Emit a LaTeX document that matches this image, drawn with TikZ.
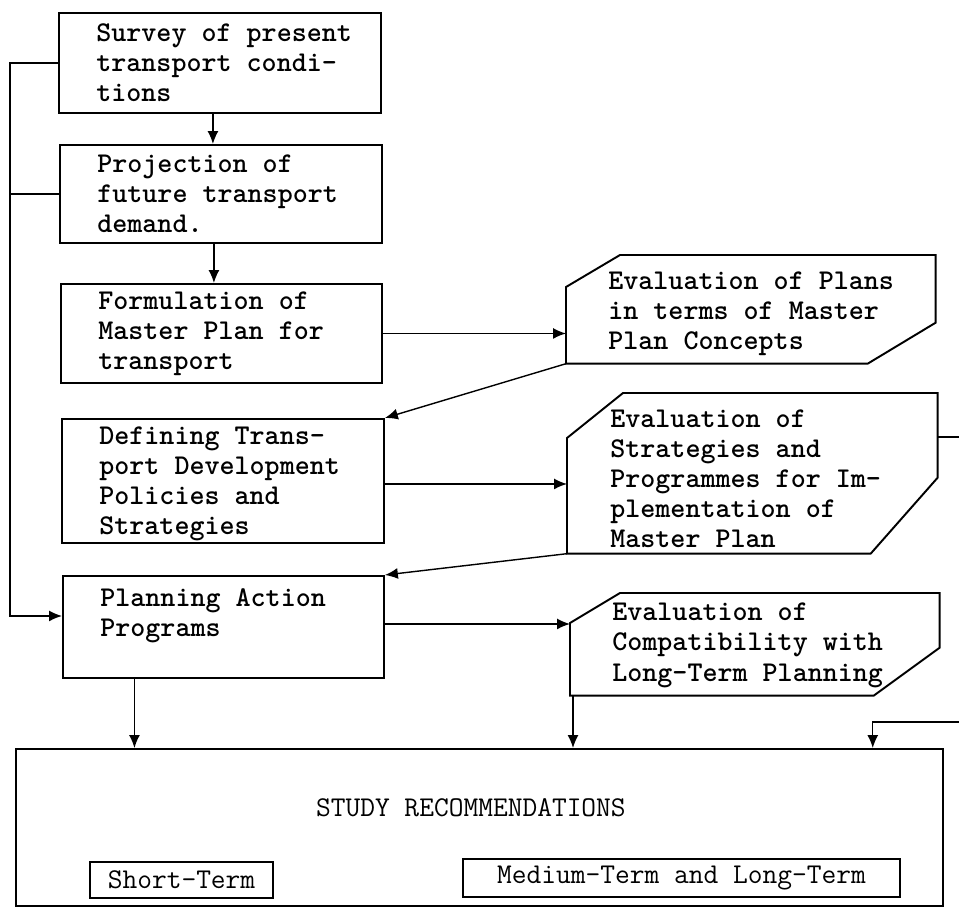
\documentclass[tikz,border=0pt]{standalone}
\usetikzlibrary{positioning,arrows.meta}

% outline with the top left and bottom right corners cut off
\newcommand\cutframe[5]{%
  \draw[line width=1.1pt] ([yshift=-#2]#1.north west) -- ([xshift=#3]#1.north west)
    -- (#1.north east) -- ([yshift=#4]#1.south east) -- ([xshift=-#5]#1.south east)
    -- (#1.south west) -- cycle;}

\begin{document}
\begin{tikzpicture}[x=0.02cm, y=-0.02cm, >={Latex[length=2.6mm,width=2.2mm]},
framenode/.style={rectangle, draw=black, line width=1.1pt, anchor=north west, inner sep=0},
evalnode/.style={rectangle, anchor=north west, inner sep=0},
textnode/.style={align=left, inner sep=0, font=\ttfamily\bfseries\fontsize{16.3}{17.1}\selectfont},
plaintext/.style={inner sep=0, font=\ttfamily\fontsize{16.3}{17.1}\selectfont},
smallbox/.style={rectangle, draw=black, line width=0.9pt, inner sep=0, font=\ttfamily\fontsize{16.3}{17.1}\selectfont},
conn/.style={line width=0.8pt},
]
\useasboundingbox (0,0) rectangle (959,910);

% Nodes
\node[framenode, minimum width=6.44cm, minimum height=2.00cm] (survey) at (58,12) {};
\node[framenode, minimum width=6.44cm, minimum height=1.96cm] (project) at (59,144) {};
\node[framenode, minimum width=6.42cm, minimum height=1.98cm] (formul) at (60,283) {};
\node[framenode, minimum width=6.44cm, minimum height=2.48cm] (defining) at (61,418) {};
\node[framenode, minimum width=6.42cm, minimum height=2.04cm] (planning) at (62,575) {};

\node[textnode, right=0.76cm of survey.west] (surveytxt) {Survey of present\\transport condi-\\tions};
\node[textnode, right=0.76cm of project.west] (projecttxt) {Projection of\\future transport\\demand.};
\node[textnode, right=0.76cm of formul.west] (formultxt) {Formulation of\\Master Plan for\\transport};
\node[textnode, right=0.76cm of defining.west, yshift=-0.06cm] (definingtxt) {Defining Trans-\\port Development\\Policies and\\Strategies};
\node[textnode, right=0.76cm of planning.west, yshift=0.22cm] (planningtxt) {Planning Action\\Programs};

\node[evalnode, minimum width=7.38cm, minimum height=2.16cm] (plans) at (566,255) {};
\cutframe{plans}{0.64cm}{1.08cm}{0.82cm}{1.36cm}
\node[textnode, right=0.84cm of plans.west, yshift=-0.08cm] (planstxt) {Evaluation of Plans\\in terms of Master\\Plan Concepts};

\node[evalnode, minimum width=7.40cm, minimum height=3.20cm] (strategies) at (567,393) {};
\cutframe{strategies}{0.90cm}{1.12cm}{1.52cm}{1.34cm}
\node[textnode, right=0.86cm of strategies.west, yshift=-0.1cm] (strategiestxt) {Evaluation of\\Strategies and\\Programmes for Im-\\plementation of\\Master Plan};

\node[evalnode, minimum width=7.38cm, minimum height=2.04cm] (compat) at (570,593) {};
\cutframe{compat}{0.60cm}{1.00cm}{0.96cm}{1.32cm}
\node[textnode, right=0.84cm of compat.west, yshift=-0.02cm] (compattxt) {Evaluation of\\Compatibility with\\Long-Term Planning};

\node[framenode, minimum width=18.54cm, minimum height=3.14cm] (study) at (15,748) {};
\node[plaintext] (studytxt) at ([xshift=-0.17cm, yshift=-1.2cm]study.north) {STUDY RECOMMENDATIONS};
\node[smallbox, minimum width=3.66cm, minimum height=0.72cm] (short) at (181.5,880) {Short-Term};
\node[smallbox, minimum width=8.74cm, minimum height=0.76cm] (medium) at (681.5,878) {Medium-Term and Long-Term};

% Arrows
\draw[conn,->] ([xshift=-0.14cm]survey.south) coordinate (a1) -- (a1 |- project.north);
\draw[conn,->] ([xshift=-0.14cm]project.south) coordinate (a2) -- (a2 |- formul.north);
\draw[conn,->] (survey.west) -- ++(-48,0) coordinate (back) |- ([yshift=0.22cm]planning.west);
\draw[conn] (project.west) -- (project.west -| back);

\draw[conn,->] (formul.east) -- (formul.east -| plans.west);
\draw[conn,->] (plans.south west) -- (defining.north east);
\draw[conn,->] ([yshift=-0.06cm]defining.east) coordinate (de) -- (de -| strategies.west);
\draw[conn,->] (strategies.south west) -- (planning.north east);
\draw[conn,->] ([yshift=0.06cm]planning.east) coordinate (pe) -- (pe -| compat.west);

\draw[conn,->] ([xshift=-1.78cm]planning.south) coordinate (ps) -- (ps |- study.north);
\draw[conn,->] ([xshift=0.06cm]compat.south west) coordinate (cs) -- (cs |- study.north);
\draw[conn,->] ([yshift=-0.88cm]strategies.north east) -- ++(40,0)
  |- ([xshift=-1.42cm, yshift=0.52cm]study.north east) -- ([xshift=-1.42cm]study.north east);

\end{tikzpicture}
\end{document}
